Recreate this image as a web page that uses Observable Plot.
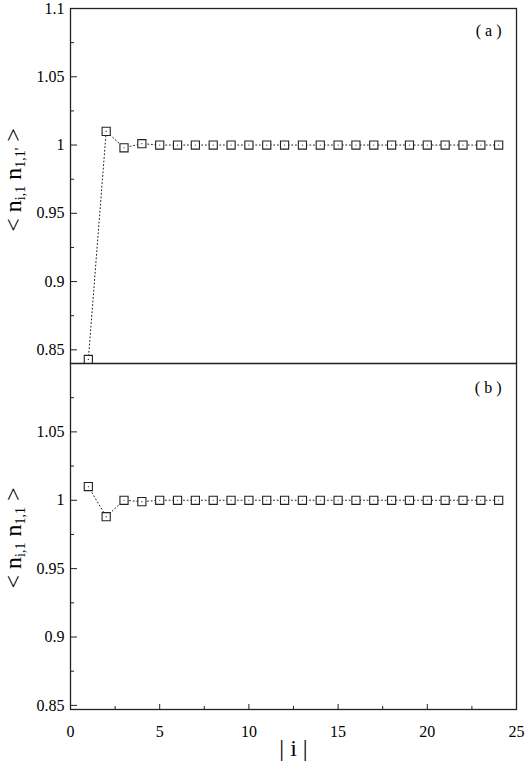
<!DOCTYPE html>
<html><head><meta charset="utf-8">
<script src="https://cdn.jsdelivr.net/npm/d3@7"></script>
<script src="https://cdn.jsdelivr.net/npm/@observablehq/plot@0.6"></script>
<style>
body{margin:0;background:#fff}
#chart svg{display:block}
#chart svg, #chart svg text, #chart svg tspan { font-family: "Liberation Serif", "DejaVu Serif", serif !important; }
</style>
</head><body><div id="chart"></div>
<script>
// ---- data ----
const iValues = [1,2,3,4,5,6,7,8,9,10,11,12,13,14,15,16,17,18,19,20,21,22,23,24];
const seriesA = [0.843,1.010,0.998,1.001,1,1,1,1,1,1,1,1,1,1,1,1,1,1,1,1,1,1,1,1];
const seriesB = [1.010,0.988,1.000,0.999,1,1,1,1,1,1,1,1,1,1,1,1,1,1,1,1,1,1,1,1];
const xTicks = [0,5,10,15,20,25];
const xMinorTicks = [2.5,7.5,12.5,17.5,22.5];
const yTicksA = [0.85,0.9,0.95,1,1.05,1.1];
const yTicksB = [0.85,0.9,0.95,1,1.05];
const yMinorTicks = [0.875,0.925,0.975,1.025,1.075];
const panelLabels = ["( a )", "( b )"];
const xLabel = "| i |";

const FONT = '"Liberation Serif", "DejaVu Serif", serif';
const INK = "#222";
const fmt = d => String(+d.toFixed(3));

const dataA = iValues.map((x, k) => ({x, y: seriesA[k]}));
const dataB = iValues.map((x, k) => ({x, y: seriesB[k]}));

function seriesMarks(data) {
  return [
    Plot.line(data, {x: "x", y: "y", stroke: INK, strokeWidth: 1, strokeDasharray: "1,2.6"}),
    Plot.dot(data, {x: "x", y: "y", symbol: "square", r: 4.6, stroke: INK, strokeWidth: 1.1, fill: "white"}),
    Plot.dot(data, {x: "x", y: "y", r: 0.6, fill: INK, stroke: null})
  ];
}

function yAxes(major) {
  return [
    Plot.axisY(major, {tickSize: -7, tickPadding: 13, tickFormat: fmt, stroke: INK, fill: "black", fontSize: 16, label: null, fontFamily: FONT}),
    Plot.axisY(yMinorTicks, {tickSize: -4, tickPadding: 0, tickFormat: () => "", stroke: INK, label: null})
  ];
}

const common = {
  width: 526,
  marginLeft: 70,
  marginRight: 10,
  style: {fontFamily: FONT, fontSize: "16px", color: "black", background: "white", overflow: "visible"}
};

const plotA = Plot.plot({
  ...common,
  height: 363,
  marginTop: 8,
  marginBottom: 0,
  x: {domain: [0, 25], axis: null},
  y: {domain: [0.84, 1.1]},
  marks: [
    ...yAxes(yTicksA),
    ...seriesMarks(dataA),
    Plot.text([panelLabels[0]], {frameAnchor: "top-right", text: d => d, dx: -15, dy: 16, fontSize: 16, fill: "black", fontFamily: FONT}),
    Plot.frame({stroke: INK, strokeWidth: 1.3})
  ]
});

const plotB = Plot.plot({
  ...common,
  height: 400,
  marginTop: 0,
  marginBottom: 54,
  x: {domain: [0, 25]},
  y: {domain: [0.847, 1.1]},
  marks: [
    ...yAxes(yTicksB),
    Plot.axisX(xTicks, {tickSize: -5, tickPadding: 21, tickFormat: fmt, stroke: INK, fill: "black", fontSize: 16, label: null, fontFamily: FONT}),
    Plot.axisX(xMinorTicks, {tickSize: -3, tickPadding: 0, tickFormat: () => "", stroke: INK, label: null}),
    ...seriesMarks(dataB),
    Plot.text([panelLabels[1]], {frameAnchor: "top-right", text: d => d, dx: -15, dy: 18, fontSize: 16, fill: "black", fontFamily: FONT}),
    Plot.text([xLabel], {frameAnchor: "bottom", text: d => d, dy: 46, fontSize: 24, fill: "black", fontFamily: FONT}),
    Plot.frame({stroke: INK, strokeWidth: 1.3})
  ]
});

function addYLabel(svg, cy, parts) {
  const t = d3.select(svg).append("text")
    .attr("transform", `translate(21,${cy}) rotate(-90)`)
    .attr("text-anchor", "middle")
    .style("font-family", FONT)
    .attr("font-size", 24)
    .attr("fill", "black");
  for (const p of parts) {
    const s = t.append("tspan").text(p.t);
    if (p.sub) s.attr("font-size", 14).attr("baseline-shift", "-30%");
  }
}

addYLabel(plotA, 180, [{t: "< n"}, {t: "i,1", sub: true}, {t: " n"}, {t: "1,1'", sub: true}, {t: " >"}]);
addYLabel(plotB, 538 - 363, [{t: "< n"}, {t: "i,1", sub: true}, {t: " n"}, {t: "1,1", sub: true}, {t: " >"}]);

document.getElementById("chart").append(plotA, plotB);
</script>
</body></html>
